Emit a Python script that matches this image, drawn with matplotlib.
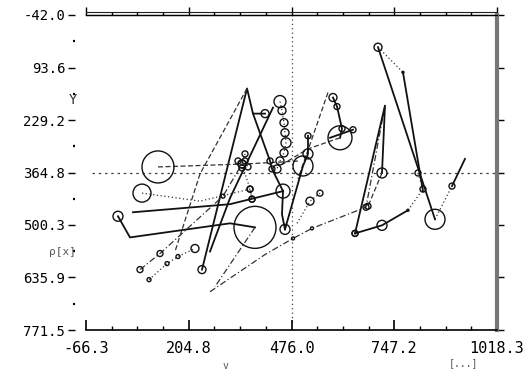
import matplotlib
matplotlib.use("Agg")
import matplotlib.pyplot as plt

# axis range (y grows downward)
x_lo, x_hi = -66.3, 1018.3
y_top, y_bot = -42.0, 771.5
x_ticks = [-66.3, 204.8, 476.0, 747.2, 1018.3]
y_ticks = [-42.0, 93.6, 229.2, 364.8, 500.3, 635.9, 771.5]
x_labels = ["-66.3", "204.8", "476.0", "747.2", "1018.3"]
y_labels = ["-42.0", "93.6", "229.2", "364.8", "500.3", "635.9", "771.5"]
cross_x, cross_y = 476.0, 364.8
cross_end = 750.7

# traces: x, y and bubble weight (0 = no circle)
a_x = [18.1, 49.8, 313.7, 379.7]
a_y = [477.8, 532.4, 496.0, 506.4]
a_w = [5, 0, 0, 21]

b_x = [239.8, 358.6, 374.4, 406.1]
b_y = [615.5, 147.7, 212.7, 212.7]
b_w = [4, 0, 0, 4]

c_x = [374.4, 419.3, 424.5, 453.6]
c_y = [212.7, 334.9, 355.6, 412.8]
c_w = [0, 3, 3, 7]

d_x = [260.9, 406.1, 480.0, 530.1, 672.6, 722.7]
d_y = [672.7, 576.6, 535.0, 509.0, 454.4, 191.9]
d_w = [0, 0, 1.5, 1.5, 3, 0]

e_x = [643.6, 722.7, 714.8]
e_y = [522.0, 191.9, 366.0]
e_w = [3, 0, 5]

f_x = [714.8, 677.9]
f_y = [366.0, 451.8]
f_w = [0, 3]

g_x = [643.6, 714.8, 783.4]
g_y = [522.0, 501.2, 462.2]
g_w = [3, 5, 1]

h_x = [783.4, 823.0, 809.8]
h_y = [462.2, 407.6, 366.0]
h_w = [0, 3, 3]

i_x = [704.3, 854.7]
i_y = [41.2, 485.6]
i_w = [4, 10]

j_x = [704.3, 770.2]
j_y = [41.2, 106.1]
j_w = [0, 1]

k_x = [770.2, 823.0]
k_y = [106.1, 412.8]
k_w = [0, 0]

l_x = [854.7, 899.5]
l_y = [485.6, 399.8]
l_w = [0, 3]

m_x = [899.5, 933.8]
m_y = [399.8, 329.7]
m_w = [0, 0]

n_x = [585.5, 596.1, 609.3, 604.0]
n_y = [171.1, 194.5, 251.7, 275.1]
n_w = [4, 3, 3, 12]

o_x = [577.6, 638.3]
o_y = [275.1, 254.3]
o_w = [0, 3]

p_x = [572.3, 493.1]
p_y = [158.1, 381.6]
p_w = [0, 0]

q_x = [604.0, 519.5, 453.6]
q_y = [275.1, 303.7, 342.7]
q_w = [0, 0, 0]

r_x = [445.6, 450.9, 456.2, 458.8, 461.5, 456.2, 445.6, 437.7]
r_y = [181.5, 204.9, 236.1, 262.1, 288.1, 314.1, 334.9, 355.6]
r_w = [6, 4, 4, 4, 5, 4, 4, 4]

s_x = [123.7, 353.3, 498.4]
s_y = [350.4, 342.7, 334.9]
s_w = [16, 0, 0]

t_x = [81.5, 234.5, 366.5, 371.8]
t_y = [418.0, 438.8, 407.6, 433.6]
t_w = [9, 0, 3, 3]

u_x = [57.7, 313.7, 453.6]
u_y = [467.4, 446.6, 412.8]
u_w = [0, 0, 0]

v_x = [76.2, 129.0, 295.2, 345.4]
v_y = [615.5, 574.0, 425.8, 342.7]
v_w = [3, 3, 2, 4]

w_x = [100.0, 147.5, 176.5, 221.3]
w_y = [641.5, 600.0, 581.8, 561.0]
w_w = [2, 2, 2, 4]

z_x = [358.6, 234.5, 168.6]
z_y = [147.7, 368.6, 568.8]
z_w = [0, 0, 0]

aa_x = [427.2, 313.7, 260.9]
aa_y = [197.1, 431.0, 568.8]
aa_w = [0, 0, 0]

bb_x = [379.7, 274.1]
bb_y = [506.4, 659.7]
bb_w = [0, 0]

cc_x = [453.6, 450.9, 458.8]
cc_y = [412.8, 472.6, 511.6]
cc_w = [0, 0, 5]

dd_x = [490.5, 524.8, 551.2]
dd_y = [496.0, 438.8, 418.0]
dd_w = [0, 4, 3]

ee_x = [519.5, 519.5, 506.3, 458.8]
ee_y = [269.9, 316.7, 347.9, 511.6]
ee_w = [3, 5, 10, 0]

ff_x = [353.3, 345.4, 366.5, 371.8]
ff_y = [316.7, 342.7, 407.6, 433.6]
ff_w = [3, 4, 3, 3]

gg_x = [334.8, 345.4, 361.2, 353.3]
gg_y = [334.9, 353.0, 350.4, 334.9]
gg_w = [3, 3, 3, 3]

solid = "-"
dash = (0, (4, 2))
dot = (0, (1, 2))
dashdot = (0, (5, 2, 1, 2))

traces = [
    (a_x, a_y, a_w, solid), (b_x, b_y, b_w, solid), (c_x, c_y, c_w, solid),
    (d_x, d_y, d_w, dashdot), (e_x, e_y, e_w, solid), (f_x, f_y, f_w, dash),
    (g_x, g_y, g_w, solid), (h_x, h_y, h_w, dot), (i_x, i_y, i_w, solid),
    (j_x, j_y, j_w, dot), (k_x, k_y, k_w, solid), (l_x, l_y, l_w, dot),
    (m_x, m_y, m_w, solid), (n_x, n_y, n_w, solid), (o_x, o_y, o_w, solid),
    (p_x, p_y, p_w, dash), (q_x, q_y, q_w, dash), (r_x, r_y, r_w, dot),
    (s_x, s_y, s_w, dash), (t_x, t_y, t_w, dot), (u_x, u_y, u_w, solid),
    (v_x, v_y, v_w, dashdot), (w_x, w_y, w_w, dot), (z_x, z_y, z_w, dash),
    (aa_x, aa_y, aa_w, solid), (bb_x, bb_y, bb_w, dashdot),
    (cc_x, cc_y, cc_w, solid), (dd_x, dd_y, dd_w, dot),
    (ee_x, ee_y, ee_w, solid), (ff_x, ff_y, ff_w, dot),
    (gg_x, gg_y, gg_w, dot),
]

plt.rcParams['font.family'] = ['DejaVu Sans Mono']
fig = plt.figure(figsize=(5.3, 3.74), dpi=100)
ax = fig.add_axes([86 / 530, 1 - 330 / 374, 411 / 530, 315 / 374])

for xs, ys, ws, ls in traces:
    lw = 1.3 if ls == solid else 0.9
    col = "#111111" if ls == solid else "#333333"
    ax.plot(xs, ys, linestyle=ls, color=col, lw=lw, zorder=2)
    px = [x for x, w in zip(xs, ws) if w > 0]
    py = [y for y, w in zip(ys, ws) if w > 0]
    ps = [(2 * w * 0.72) ** 2 for w in ws if w > 0]
    ax.scatter(px, py, s=ps, facecolors="none", edgecolors="#111111",
               linewidths=1.0, zorder=3)

# crosshair
ax.axvline(cross_x, ymin=(y_bot - cross_end) / (y_bot - y_top), ymax=1,
           color="#444444", lw=0.9, linestyle=(0, (1, 2.5)), zorder=1)
ax.axhline(cross_y, xmin=0.015, xmax=1, color="#444444", lw=0.9,
           linestyle=(0, (2, 3)), zorder=1)

ax.set_xlim(x_lo, x_hi)
ax.set_ylim(y_bot, y_top)

ax.set_xticks(x_ticks)
ax.set_xticklabels(x_labels, fontsize=11)
ax.set_yticks(y_ticks)
ax.set_yticklabels(y_labels, fontsize=11)
xstep = (x_hi - x_lo) / 16
ax.set_xticks([x_lo + xstep * k for k in range(17) if k % 4], minor=True)
ystep = (y_bot - y_top) / 12
ax.set_yticks([y_top + ystep * k for k in range(13) if k % 2], minor=True)

ax.spines['left'].set_visible(False)
ax.spines['left'].set_position(('outward', 8))
ax.spines['right'].set_linewidth(3)
ax.spines['right'].set_color("#777777")
ax.spines['top'].set_linewidth(0.9)
ax.spines['bottom'].set_linewidth(1.2)

ax.tick_params(axis='x', which='major', direction='in', length=7, width=1.2, pad=8)
ax.tick_params(axis='x', which='minor', direction='in', length=3, width=1)
ax.tick_params(axis='y', which='major', direction='out', length=5, width=1,
               pad=2, right=True)
ax.tick_params(axis='y', which='minor', direction='out', length=1.5, width=1.6,
               right=True)

top = ax.secondary_xaxis('top')
top.set_xticks(x_ticks)
top.set_xticklabels([])
top.set_xticks([x_lo + xstep * k for k in range(17) if k % 4], minor=True)
top.tick_params(which='major', direction='out', length=6, width=1)
top.tick_params(which='minor', direction='out', length=2, width=1)
top.spines['top'].set_linewidth(0.9)
ax.plot([0, 1], [1.008, 1.008], transform=ax.transAxes, color="#222222",
        lw=0.8, clip_on=False)

fig.text(73 / 530, 1 - 100 / 374, "Y", fontsize=10, ha='center', va='center',
         color="#333333")
fig.text(62 / 530, 1 - 252 / 374, "ρ[x]", fontsize=8, ha='center', va='center',
         color="#555555")
fig.text(225 / 530, 1 - 366 / 374, "v", fontsize=7, ha='center', va='center',
         color="#555555")
fig.text(463 / 530, 1 - 363 / 374, "[...]", fontsize=7, ha='center', va='center',
         color="#555555")

fig.savefig("out.png", dpi=100)
